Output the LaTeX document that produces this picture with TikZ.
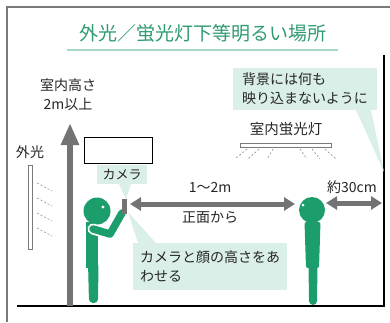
\documentclass[tikz,border=0pt]{standalone}
\usepackage{fontspec}
\setmainfont{Noto Sans CJK JP}
\usetikzlibrary{arrows.meta}
\definecolor{figgreen}{HTML}{1C9D6C}
\definecolor{titlegreen}{HTML}{2E9B70}
\definecolor{rulegreen}{HTML}{A6D9C3}
\definecolor{notefill}{HTML}{DAEFE7}
\definecolor{arrowgray}{HTML}{737373}
\definecolor{framegray}{HTML}{7A7A7A}
\tikzset{
  lbl/.style={inner sep=0pt, font=\fontsize{14}{19}\selectfont, text=black!85},
  note/.style={fill=notefill, draw=none, inner sep=0pt, align=left,
    font=\fontsize{14}{19}\selectfont, text=black!85},
  dimarrow/.style={draw=arrowgray, line width=5pt,
    {Triangle[width=13pt,length=11pt]}-{Triangle[width=13pt,length=11pt]}},
  ray/.style={draw=black!45, line width=0.6pt, dash pattern=on 2pt off 2pt},
  person/.style={fill=figgreen, draw=none},
}
\begin{document}
\begin{tikzpicture}[x=1pt,y=-1pt]
\useasboundingbox (0,0) rectangle (390,322);

% outer frame (top and left edges)
\draw[framegray, line width=1.2pt] (7,322) -- (7,7) -- (390,7);

% title with underline
\node[inner sep=0pt, text=titlegreen, font=\fontsize{19}{22}\selectfont] (title) at (203,33) {外光／蛍光灯下等明るい場所};
\draw[rulegreen, line width=1.6pt] (67,50) -- (338,50);

% room: wall and floor
\coordinate (walltop) at (384,55);
\coordinate (wallfoot) at (384,306);
\coordinate (floorleft) at (17,306);
\draw[black, line width=2pt] (walltop) -- (wallfoot);
\draw[black, line width=2.5pt] (floorleft) -- (385,306);

% ceiling height
\node[lbl, align=center] (height) at (68,95) {室内高さ\\2m以上};
\coordinate (hbase) at (70,306);
\coordinate (htop) at (70,123);
\draw[arrowgray, line width=6pt, -{Triangle[width=17pt,length=22pt]}] (hbase) -- (htop);

% outside light through window
\node[lbl] (outside) at (30,152) {外光};
\draw[framegray, line width=0.8pt, fill=white] (28,165) rectangle (32,249);
\foreach \y in {183,198,213,228}
  \draw[ray] (37,\y) -- (52,\y+8);

% blank frame above camera
\node[draw=black, line width=0.8pt, fill=white, minimum width=68pt, minimum height=26pt, inner sep=0pt] (screen) at (118,150) {};

% notes pointing at camera
\fill[notefill] (119,184) -- (131,184) -- (126,199) -- cycle;
\node[note, minimum width=50pt, minimum height=19pt, align=center, font=\fontsize{13}{16}\selectfont] (camnote) at (122,174.5) {カメラ};
\fill[notefill] (128,212) -- (138,243) -- (156,243) -- cycle;
\node[note, minimum width=154pt, minimum height=47pt] (heightnote) at (210,266.5) {カメラと顔の高さをあ\\わせる};

% photographer
\fill[person] (86,222) -- (98,222) -- (98,268) -- (86,268) -- cycle;
\fill[person, rounded corners=4pt] (88,262) -- (98.5,262) -- (98,303) -- (89,303) -- cycle;
\fill[person] (97,211) circle (13.5);
\fill[white] (103,207) circle (1.6);
\draw[white, line width=11pt, line cap=round, line join=round] (93,229) -- (110,234) -- (122,213);
\draw[figgreen, line width=7.5pt, line cap=round, line join=round] (93,229) -- (110,234) -- (122,213);
\node[fill=arrowgray, minimum width=5pt, minimum height=15pt, inner sep=0pt] (camera) at (124.5,206.5) {};

% subject
\fill[person, rounded corners=2pt] (304.5,222) -- (320.5,222) -- (319,268) -- (306,268) -- cycle;
\fill[person, rounded corners=4pt] (308.5,262) -- (317.5,262) -- (317,305) -- (309,305) -- cycle;
\node[person, circle, minimum size=26pt, inner sep=0pt] (subject) at (312,210) {};
\fill[white] (303,205) circle (1.5);

% distances
\coordinate (d1a) at (130,204);
\coordinate (d1b) at (295,204);
\draw[dimarrow] (d1a) -- (d1b);
\node[lbl] (dist) at (210,187) {1〜2m};
\node[lbl] (front) at (210,218) {正面から};
\coordinate (d2a) at (326,203);
\coordinate (d2b) at (382,203);
\draw[dimarrow] (d2a) -- (d2b);
\node[lbl] (gap) at (352,187) {約30cm};

% background note
\fill[notefill] (356,110) -- (371,110) -- (384,172) -- cycle;
\node[note, minimum width=144pt, minimum height=42pt] (bgnote) at (305,89) {背景には何も\\映り込まないように};

% ceiling lamp
\node[lbl, font=\fontsize{14.5}{18}\selectfont] (lamp) at (286,129) {室内蛍光灯};
\draw[framegray, line width=0.8pt, fill=white] (240,143) rectangle (331,147);
\draw[ray] (247,149) -- (235,159);
\draw[ray] (259,149) -- (248,159);
\draw[ray] (273,149) -- (267,159);
\draw[ray] (300,149) -- (307,159);
\draw[ray] (312,149) -- (320,159);
\draw[ray] (325,149) -- (336,159);
\end{tikzpicture}
\end{document}
